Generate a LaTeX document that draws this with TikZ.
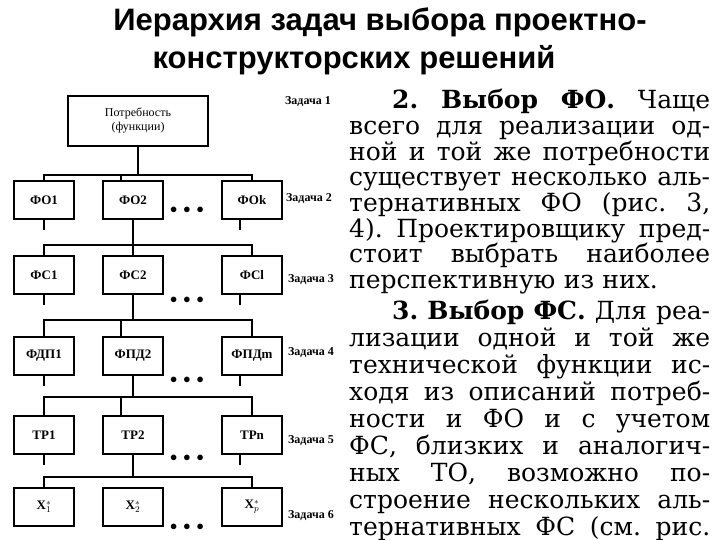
\documentclass[tikz,border=0pt]{standalone}
\usepackage{fontspec}
\setmainfont{Liberation Serif}
\newfontfamily\titlefont{Liberation Sans}
\newfontfamily\bodyfont{DejaVu Serif}
\usetikzlibrary{positioning}
\frenchspacing
\newlength\colwd
\setlength\colwd{361pt}
\newcommand\jline[1]{\makebox[\colwd][s]{\spaceskip=0.3em plus 1fil\relax #1}\\}

\begin{document}
\begin{tikzpicture}[x=1pt, y=-1pt,
  blk/.style={rectangle, draw, line width=2.4pt, minimum width=60pt, minimum height=38pt, inner sep=2pt, align=center, font=\fontsize{13}{15}\selectfont\bfseries},
  link/.style={line width=2.4pt},
  task/.style={inner sep=0pt, font=\fontsize{12}{14}\selectfont\bfseries},
  dots/.style={inner sep=0pt, font=\fontsize{14}{14}\selectfont},
  ttl/.style={inner sep=0pt, anchor=base, font=\titlefont\bfseries\fontsize{31}{36}\selectfont}
]
  \fill[white] (0,0) rectangle (720,540);
  \useasboundingbox (0,0) rectangle (720,540);

  % title
  \node[ttl] (title1) at (380,31) {Иерархия задач выбора проектно-};
  \node[ttl] (title2) at (354,69) {конструкторских решений};

  % hierarchy
  \node[blk, minimum width=140pt, minimum height=50pt, font=\fontsize{12}{14}\selectfont] (need) at (138,121) {Потребность\\(функции)};

  \node[blk] (fo1) at (44,200) {ФО1};
  \node[blk] (fo2) at (133,200) {ФО2};
  \node[blk] (fok) at (252,200) {ФОk};

  \node[blk] (fs1) at (44,275) {ФС1};
  \node[blk] (fs2) at (133,275) {ФС2};
  \node[blk] (fsl) at (252,275) {ФСl};

  \node[blk] (fpd1) at (44,356) {ФДП1};
  \node[blk] (fpd2) at (133,356) {ФПД2};
  \node[blk] (fpdm) at (252,356) {ФПДm};

  \node[blk] (tr1) at (44,435) {ТР1};
  \node[blk] (tr2) at (133,435) {ТР2};
  \node[blk] (trn) at (252,435) {ТРn};

  \node[blk] (x1) at (44,507) {Х$_1^*$};
  \node[blk] (x2) at (133,507) {Х$_2^*$};
  \node[blk] (xp) at (252,507) {Х$_p^*$};

  \node[dots] (d1) at (187,210) {$\bullet$\hspace{6pt}$\bullet$\hspace{6pt}$\bullet$};
  \node[dots] (d2) at (187,300) {$\bullet$\hspace{6pt}$\bullet$\hspace{6pt}$\bullet$};
  \node[dots] (d3) at (187,380) {$\bullet$\hspace{6pt}$\bullet$\hspace{6pt}$\bullet$};
  \node[dots] (d4) at (187,458) {$\bullet$\hspace{6pt}$\bullet$\hspace{6pt}$\bullet$};
  \node[dots] (d5) at (187,527) {$\bullet$\hspace{6pt}$\bullet$\hspace{6pt}$\bullet$};

  \node[task] (task1) at (308,102) {Задача 1};
  \node[task] (task2) at (309,199) {Задача 2};
  \node[task] (task3) at (311,280) {Задача 3};
  \node[task] (task4) at (311,353) {Задача 4};
  \node[task] (task5) at (311,441) {Задача 5};
  \node[task] (task6) at (311,516) {Задача 6};

  % buses
  \coordinate (b1) at (0,175);
  \coordinate (b2) at (0,245);
  \coordinate (b3) at (0,320);
  \coordinate (b4) at (0,397);
  \coordinate (b5) at (0,477);

  \draw[link] (need.south) -- (need.south |- b1);
  \draw[link] (fo1.north) |- (fok.north |- b1) -- (fok.north);
  \draw[link] ([xshift=-12pt]fo2.north) -- ([xshift=-12pt]fo2.north |- b1);

  \draw[link] (fo2.south) -- (fo2.south |- b2);
  \draw[link] (fs1.north) |- (fsl.north |- b2) -- (fsl.north);
  \draw[link] (fs2.north) -- (fs2.north |- b2);
  \draw[link] (fo1.south) -- ++(0,10);
  \draw[link] ([xshift=-12pt]fok.south) -- ++(0,10);

  \draw[link] (fs2.south) -- (fs2.south |- b3);
  \draw[link] (fpd1.north) |- (fpdm.north |- b3) -- (fpdm.north);
  \draw[link] ([xshift=-12pt]fpd2.north) -- ([xshift=-12pt]fpd2.north |- b3);
  \draw[link] (fs1.south) -- ++(0,10);
  \draw[link] ([xshift=-12pt]fsl.south) -- ++(0,10);

  \draw[link] (fpd2.south) -- (fpd2.south |- b4);
  \draw[link] (tr1.north) |- (trn.north |- b4) -- (trn.north);
  \draw[link] ([xshift=-12pt]tr2.north) -- ([xshift=-12pt]tr2.north |- b4);
  \draw[link] (fpd1.south) -- ++(0,10);
  \draw[link] ([xshift=-12pt]fpdm.south) -- ++(0,10);

  \draw[link] (tr2.south) -- (tr2.south |- b5);
  \draw[link] (x1.north) |- (xp.north |- b5) -- (xp.north);
  \draw[link] (tr1.south) -- ++(0,10);
  \draw[link] ([xshift=-12pt]trn.south) -- ++(0,10);

  % text column
  \node[anchor=north west, inner sep=0pt, text width=\colwd, font=\bodyfont\fontsize{25}{25.7}\selectfont] (txt) at (349,89) {%
    \parindent=0pt\parskip=0pt
    \jline{\hspace*{43pt}\textbf{2. Выбор ФО.} Чаще}
    \jline{всего для реализации од-}
    \jline{ной и той же потребности}
    \jline{существует несколько аль-}
    \jline{тернативных ФО (рис. 3,}
    \jline{4). Проектировщику пред-}
    \jline{стоит выбрать наиболее}
    перспективную из них.\par
    \vspace{4.5pt}
    \fontsize{25}{26.9}\selectfont
    \jline{\hspace*{43pt}\textbf{3. Выбор ФС.} Для реа-}
    \jline{лизации одной и той же}
    \jline{технической функции ис-}
    \jline{ходя из описаний потреб-}
    \jline{ности и ФО и с учетом}
    \jline{ФС, близких и аналогич-}
    \jline{ных ТО, возможно по-}
    \jline{строение нескольких аль-}
    \makebox[\colwd][s]{\spaceskip=0.3em plus 1fil\relax тернативных ФС (см. рис.}\par};
\end{tikzpicture}
\end{document}
